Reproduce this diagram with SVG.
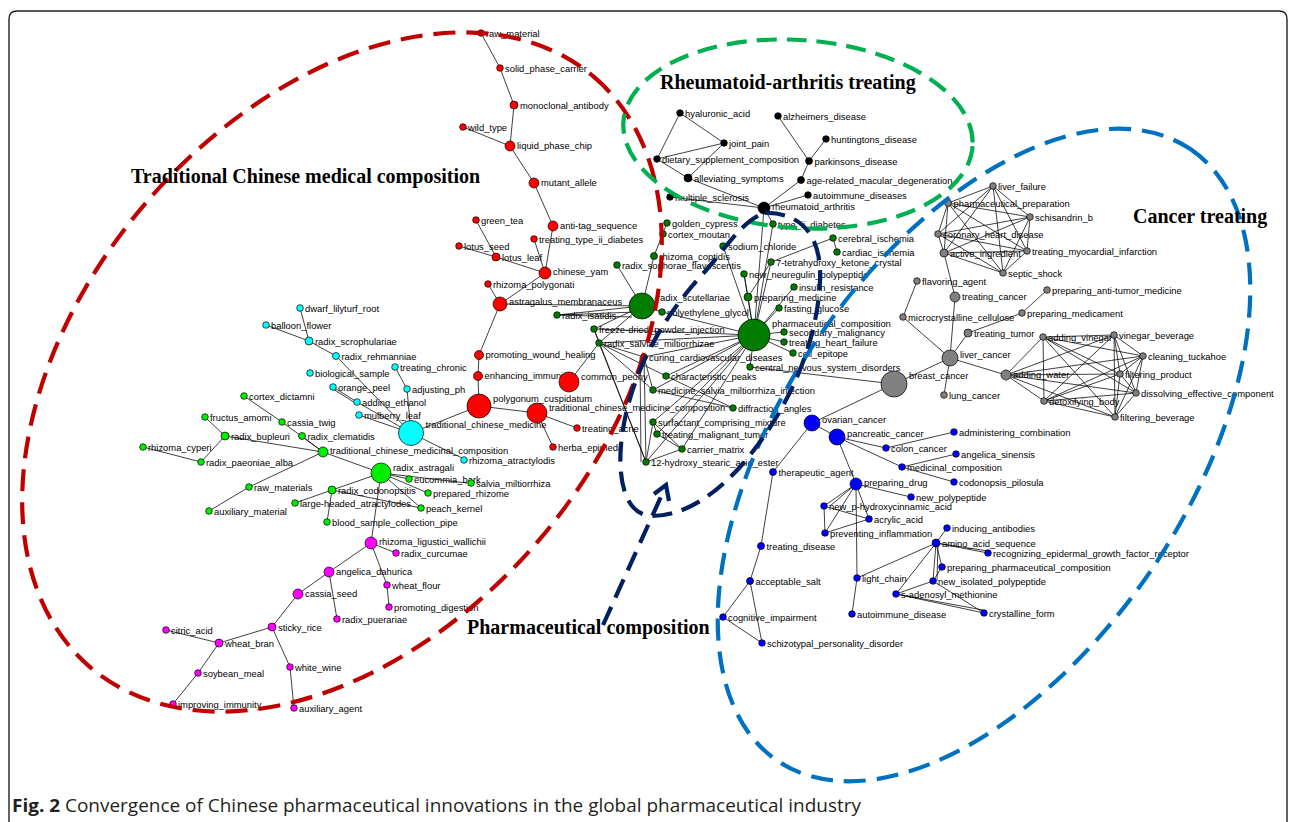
<svg xmlns="http://www.w3.org/2000/svg" width="1295" height="822" viewBox="0 0 1295 822">
<style>
.n circle{stroke:#000;stroke-width:0.7}
.n text{font-family:"Liberation Sans",Arial,sans-serif;font-size:9.4px;fill:#000}
.red circle{fill:#ff0000}.cyan circle{fill:#00ffff}.lime circle{fill:#00ee00}.mag circle{fill:#ff00ff}
.dg circle{fill:#007c00}.blk circle{fill:#000}.gry circle{fill:#808080}.blu circle{fill:#0000ff}
#edges path{fill:none;stroke:#000;stroke-width:0.75}
.zone{fill:none;stroke-width:4.2}
.title{font-family:"Liberation Serif","Times New Roman",serif;font-weight:bold;font-size:20px;fill:#000}
</style>
<rect width="1295" height="822" fill="#fff"/>
<path d="M9 822V19Q9 11 17 11H1279Q1287 11 1287 19V822" fill="none" stroke="#231f20" stroke-width="1.4"/>

<g id="edges">
<path d="M481 33L500 68M500 68L514 105M514 105L510 146M463 127L510 146M510 146L534 183M534 183L553 226M553 226L545 273M534 239L545 273M476 220L496 257M459 246L496 257M496 257L545 273M545 273L500 304M488 284L500 304M500 304L479 355M479 355L478 376M478 376L479 406M479 406L537 413M537 413L577 428M537 413L553 447M479 406L411 433M500 304L642 306M569 382L599 343"/>
<path d="M300 308L309 341M266 325L309 341M309 341L336 356M336 356L411 433M395 367L407 389M407 389L411 433M333 387L357 402M333 389L357 404M357 402L411 433M359 415L411 433M411 433L464 459"/>
<path d="M244 396L282 422M282 422L323 452M205 417L225 436M225 436L201 462M143 447L201 462M225 436L323 452M302 436L323 452M323 452L381 473M323 452L249 487M249 487L209 511M381 473L409 479M381 473L467 483M381 473L428 493M381 473L421 508M381 473L332 490M332 490L295 503M327 522L332 490M332 490L421 508"/>
<path d="M371 543L396 553M371 543L329 572M371 543L387 585M387 585L389 607M329 572L298 594M329 572L337 619M298 594L272 627M272 627L219 643M166 630L219 643M219 643L198 673M198 673L173 704M272 627L290 667M290 667L294 708M371 543L381 473"/>
<path d="M642 306L617 265M642 306L654 256M654 256L667 223M557 315L642 306M557 315L636 312M557 315L632 317M642 306L594 329M642 306L599 343M642 306L662 312M594 329L599 343M594 329L754 335M599 343L754 335M599 343L644 357M599 343L653 390M599 343L646 462M599 343L666 376M594 329L646 462M644 357L646 462M640 357L641 462M644 357L653 390M644 357L754 335M662 312L754 335M666 376L754 335M653 390L754 335M750 367L754 335M653 390L733 408M666 376L733 408M653 422L754 335M657 434L754 335M682 449L754 335M646 462L754 335M653 422L657 434M653 422L682 449M657 434L682 449M646 462L682 449M646 462L653 422M784 332L754 335M784 342L754 335M793 353L754 335M779 308L754 335M748 297L754 335M744 274L754 335M744 274L748 297M723 246L754 335M773 224L754 335M771 262L754 335M764 208L754 335M794 287L754 335M748 297L771 262M833 238L837 252M833 238L771 262M764 208L773 224"/>
<path d="M680 113L724 143M680 113L657 159M657 159L724 143M657 159L688 178M688 178L724 143M688 178L764 208M670 197L764 208M778 116L809 161M826 139L809 161M809 161L801 180M801 180L764 208M808 195L764 208"/>
<path d="M993 186L948 203M993 186L1030 217M993 186L938 234M993 186L944 253M993 186L1027 251M993 186L1003 273M948 203L1030 217M948 203L938 234M948 203L944 253M948 203L1027 251M948 203L1003 273M1030 217L938 234M1030 217L944 253M1030 217L1027 251M1030 217L1003 273M938 234L944 253M938 234L1027 251M938 234L1003 273M944 253L1027 251M944 253L1003 273M1027 251L1003 273"/>
<path d="M944 253L955 297M917 281L903 317M903 317L950 358M955 297L950 358M968 333L1022 313M1022 313L1047 290M968 333L950 358M950 358L894 384M950 358L1006 375M944 395L950 358M894 384L750 367M894 384L812 423"/>
<path d="M1043 337L1114 335M1043 337L1143 356M1043 337L1006 375M1043 337L1120 374M1043 337L1136 393M1043 337L1044 401M1043 337L1115 417M1114 335L1143 356M1114 335L1006 375M1114 335L1120 374M1114 335L1136 393M1114 335L1044 401M1114 335L1115 417M1143 356L1006 375M1143 356L1120 374M1143 356L1136 393M1143 356L1044 401M1143 356L1115 417M1006 375L1120 374M1006 375L1136 393M1006 375L1044 401M1006 375L1115 417M1120 374L1136 393M1120 374L1044 401M1120 374L1115 417M1136 393L1044 401M1136 393L1115 417M1044 401L1115 417"/>
<path d="M812 423L837 437M812 423L773 472M837 437L886 448M837 437L902 467M837 437L856 484M886 448L954 432M902 467L956 454M902 467L954 482M773 472L761 546M761 546L750 581M750 581L723 617M750 581L762 643M723 617L762 643M856 484L911 497M856 484L824 506M856 484L830 506M856 484L825 533M856 484L869 519M856 484L857 578M824 506L825 533M824 506L869 519M825 533L869 519M857 578L852 614M857 578L936 543M936 543L947 528M936 543L988 553M936 543L988 551M936 543L942 567M936 543L933 581M938 543L937 581M936 543L896 594M933 581L984 613M896 594L984 613M896 594L983 610M933 581L896 594M942 567L933 581"/>
</g>

<g id="n-raw_material" class="n red"><circle cx="481" cy="33" r="3.3"/><text x="486" y="36.5">raw_material</text></g>
<g id="n-solid_phase_carrier" class="n red"><circle cx="500" cy="68" r="3.3"/><text x="505" y="71.5">solid_phase_carrier</text></g>
<g id="n-monoclonal_antibody" class="n red"><circle cx="514" cy="105" r="4"/><text x="520" y="108.5">monoclonal_antibody</text></g>
<g id="n-wild_type" class="n red"><circle cx="463" cy="127" r="3.3"/><text x="468" y="130.5">wild_type</text></g>
<g id="n-liquid_phase_chip" class="n red"><circle cx="510" cy="146" r="5"/><text x="517" y="148.5">liquid_phase_chip</text></g>
<g id="n-mutant_allele" class="n red"><circle cx="534" cy="183" r="5"/><text x="541" y="185.5">mutant_allele</text></g>
<g id="n-anti_tag_sequence" class="n red"><circle cx="553" cy="226" r="5"/><text x="560" y="228.5">anti-tag_sequence</text></g>
<g id="n-green_tea" class="n red"><circle cx="476" cy="220" r="3.3"/><text x="481" y="223.5">green_tea</text></g>
<g id="n-treating_type_ii_diabetes" class="n red"><circle cx="534" cy="239" r="3.3"/><text x="539" y="242.5">treating_type_ii_diabetes</text></g>
<g id="n-lotus_seed" class="n red"><circle cx="459" cy="246" r="3.3"/><text x="464" y="249.5">lotus_seed</text></g>
<g id="n-lotus_leaf" class="n red"><circle cx="496" cy="257" r="4"/><text x="502" y="260.5">lotus_leaf</text></g>
<g id="n-chinese_yam" class="n red"><circle cx="545" cy="273" r="6"/><text x="553" y="274.5">chinese_yam</text></g>
<g id="n-rhizoma_polygonati" class="n red"><circle cx="488" cy="284" r="3.3"/><text x="493" y="287.5">rhizoma_polygonati</text></g>
<g id="n-astragalus_membranaceus" class="n red"><circle cx="500" cy="304" r="7"/><text x="509" y="304.5">astragalus_membranaceus</text></g>
<g id="n-promoting_wound_healing" class="n red"><circle cx="479" cy="355" r="4.5"/><text x="485.5" y="358">promoting_wound_healing</text></g>
<g id="n-enhancing_immunity" class="n red"><circle cx="478" cy="376" r="4.5"/><text x="484.5" y="379">enhancing_immunity</text></g>
<g id="n-polygonum_cuspidatum" class="n red"><circle cx="479" cy="406" r="12"/><text x="493" y="401.5">polygonum_cuspidatum</text></g>
<g id="n-traditional_chinese_medicine_composition" class="n red"><circle cx="537" cy="413" r="10"/><text x="549" y="410.5">traditional_chinese_medicine_composition</text></g>
<g id="n-common_peony" class="n red"><circle cx="569" cy="382" r="10"/><text x="581" y="379.5">common_peony</text></g>
<g id="n-treating_acne" class="n red"><circle cx="577" cy="428" r="3.3"/><text x="582" y="431.5">treating_acne</text></g>
<g id="n-herba_epimedii" class="n red"><circle cx="553" cy="447" r="3.3"/><text x="558" y="450.5">herba_epimedii</text></g>

<g id="n-dwarf_lilyturf_root" class="n cyan"><circle cx="300" cy="308" r="3.3"/><text x="305" y="311.5">dwarf_lilyturf_root</text></g>
<g id="n-balloon_flower" class="n cyan"><circle cx="266" cy="325" r="3.3"/><text x="271" y="328.5">balloon_flower</text></g>
<g id="n-radix_scrophulariae" class="n cyan"><circle cx="309" cy="341" r="4"/><text x="315" y="344.5">radix_scrophulariae</text></g>
<g id="n-radix_rehmanniae" class="n cyan"><circle cx="336" cy="356" r="3.5"/><text x="341.5" y="359.5">radix_rehmanniae</text></g>
<g id="n-treating_chronic" class="n cyan"><circle cx="395" cy="367" r="3.3"/><text x="400" y="370.5">treating_chronic</text></g>
<g id="n-biological_sample" class="n cyan"><circle cx="310" cy="373" r="3.3"/><text x="315" y="376.5">biological_sample</text></g>
<g id="n-adjusting_ph" class="n cyan"><circle cx="407" cy="389" r="3.3"/><text x="412" y="392.5">adjusting_ph</text></g>
<g id="n-orange_peel" class="n cyan"><circle cx="333" cy="387" r="3.3"/><text x="338" y="390.5">orange_peel</text></g>
<g id="n-adding_ethanol" class="n cyan"><circle cx="357" cy="402" r="3.3"/><text x="362" y="405.5">adding_ethanol</text></g>
<g id="n-mulberry_leaf" class="n cyan"><circle cx="359" cy="415" r="3.3"/><text x="364" y="418.5">mulberry_leaf</text></g>
<g id="n-traditional_chinese_medicine" class="n cyan"><circle cx="411" cy="433" r="12.5"/><text x="425.5" y="428">traditional_chinese_medicine</text></g>
<g id="n-rhizoma_atractylodis" class="n cyan"><circle cx="464" cy="460" r="3.3"/><text x="469" y="464">rhizoma_atractylodis</text></g>

<g id="n-cortex_dictamni" class="n lime"><circle cx="244" cy="396" r="3.3"/><text x="249" y="399.5">cortex_dictamni</text></g>
<g id="n-fructus_amomi" class="n lime"><circle cx="205" cy="417" r="3.3"/><text x="210" y="420.5">fructus_amomi</text></g>
<g id="n-cassia_twig" class="n lime"><circle cx="282" cy="422" r="3.3"/><text x="287" y="425.5">cassia_twig</text></g>
<g id="n-radix_bupleuri" class="n lime"><circle cx="225" cy="436" r="4"/><text x="231" y="439.5">radix_bupleuri</text></g>
<g id="n-radix_clematidis" class="n lime"><circle cx="302" cy="436" r="3.5"/><text x="307.5" y="439.5">radix_clematidis</text></g>
<g id="n-rhizoma_cyperi" class="n lime"><circle cx="143" cy="447" r="3.3"/><text x="148" y="450.5">rhizoma_cyperi</text></g>
<g id="n-traditional_chinese_medicinal_composition" class="n lime"><circle cx="323" cy="452" r="5"/><text x="330" y="453.5">traditional_chinese_medicinal_composition</text></g>
<g id="n-radix_paeoniae_alba" class="n lime"><circle cx="201" cy="462" r="3.3"/><text x="206" y="465.5">radix_paeoniae_alba</text></g>
<g id="n-radix_astragali" class="n lime"><circle cx="381" cy="473" r="10"/><text x="393" y="470.5">radix_astragali</text></g>
<g id="n-eucommia_bark" class="n lime"><circle cx="409" cy="479" r="3.3"/><text x="414" y="482.5">eucommia_bark</text></g>
<g id="n-salvia_miltiorrhiza" class="n lime"><circle cx="471" cy="483" r="3.3"/><text x="476" y="486.5">salvia_miltiorrhiza</text></g>
<g id="n-raw_materials" class="n lime"><circle cx="249" cy="487" r="3.3"/><text x="254" y="490.5">raw_materials</text></g>
<g id="n-radix_codonopsitis" class="n lime"><circle cx="332" cy="490" r="4"/><text x="338" y="493.5">radix_codonopsitis</text></g>
<g id="n-prepared_rhizome" class="n lime"><circle cx="428" cy="493" r="3.3"/><text x="433" y="496.5">prepared_rhizome</text></g>
<g id="n-large_headed_atractylodes" class="n lime"><circle cx="295" cy="503" r="3.3"/><text x="300" y="506.5">large-headed_atractylodes</text></g>
<g id="n-peach_kernel" class="n lime"><circle cx="421" cy="508" r="3.3"/><text x="426" y="511.5">peach_kernel</text></g>
<g id="n-auxiliary_material" class="n lime"><circle cx="209" cy="511" r="3.3"/><text x="214" y="514.5">auxiliary_material</text></g>
<g id="n-blood_sample_collection_pipe" class="n lime"><circle cx="327" cy="522" r="3.3"/><text x="332" y="525.5">blood_sample_collection_pipe</text></g>

<g id="n-rhizoma_ligustici_wallichii" class="n mag"><circle cx="371" cy="543" r="6"/><text x="379" y="544.5">rhizoma_ligustici_wallichii</text></g>
<g id="n-radix_curcumae" class="n mag"><circle cx="396" cy="553" r="3.3"/><text x="401" y="556.5">radix_curcumae</text></g>
<g id="n-angelica_dahurica" class="n mag"><circle cx="329" cy="572" r="5"/><text x="336" y="574.5">angelica_dahurica</text></g>
<g id="n-wheat_flour" class="n mag"><circle cx="387" cy="585" r="3.3"/><text x="392" y="588.5">wheat_flour</text></g>
<g id="n-cassia_seed" class="n mag"><circle cx="298" cy="594" r="5"/><text x="305" y="596.5">cassia_seed</text></g>
<g id="n-promoting_digestion" class="n mag"><circle cx="389" cy="607" r="3.3"/><text x="394" y="610.5">promoting_digestion</text></g>
<g id="n-radix_puerariae" class="n mag"><circle cx="337" cy="619" r="3.3"/><text x="342" y="622.5">radix_puerariae</text></g>
<g id="n-sticky_rice" class="n mag"><circle cx="272" cy="627" r="4"/><text x="278" y="630.5">sticky_rice</text></g>
<g id="n-citric_acid" class="n mag"><circle cx="166" cy="630" r="3.3"/><text x="171" y="633.5">citric_acid</text></g>
<g id="n-wheat_bran" class="n mag"><circle cx="219" cy="643" r="4"/><text x="225" y="646.5">wheat_bran</text></g>
<g id="n-white_wine" class="n mag"><circle cx="290" cy="667" r="3.3"/><text x="295" y="670.5">white_wine</text></g>
<g id="n-soybean_meal" class="n mag"><circle cx="198" cy="673" r="3.3"/><text x="203" y="676.5">soybean_meal</text></g>
<g id="n-improving_immunity" class="n mag"><circle cx="173" cy="704" r="3.3"/><text x="178" y="707.5">improving_immunity</text></g>
<g id="n-auxiliary_agent" class="n mag"><circle cx="294" cy="708" r="3.3"/><text x="299" y="711.5">auxiliary_agent</text></g>

<g id="n-golden_cypress" class="n dg"><circle cx="667" cy="223" r="3.3"/><text x="672" y="226.5">golden_cypress</text></g>
<g id="n-cortex_moutan" class="n dg"><circle cx="663" cy="234" r="3.3"/><text x="668" y="237.5">cortex_moutan</text></g>
<g id="n-rhizoma_coptidis" class="n dg"><circle cx="654" cy="256" r="3.5"/><text x="659.5" y="259.5">rhizoma_coptidis</text></g>
<g id="n-radix_sophorae_flavescentis" class="n dg"><circle cx="617" cy="265" r="3.3"/><text x="622" y="268.5">radix_sophorae_flavescentis</text></g>
<g id="n-radix_scutellariae" class="n dg"><circle cx="642" cy="306" r="13"/><text x="657" y="300.5">radix_scutellariae</text></g>
<g id="n-polyethylene_glycol" class="n dg"><circle cx="662" cy="312" r="3.3"/><text x="667" y="315.5">polyethylene_glycol</text></g>
<g id="n-radix_isatidis" class="n dg"><circle cx="557" cy="315" r="3.3"/><text x="562" y="318.5">radix_isatidis</text></g>
<g id="n-freeze_dried_powder_injection" class="n dg"><circle cx="594" cy="329" r="3.3"/><text x="599" y="332.5">freeze-dried_powder_injection</text></g>
<g id="n-radix_salviae_miltiorrhizae" class="n dg"><circle cx="599" cy="343" r="3.3"/><text x="604" y="346.5">radix_salviae_miltiorrhizae</text></g>
<g id="n-curing_cardiovascular_diseases" class="n dg"><circle cx="644" cy="357" r="3.3"/><text x="649" y="360.5">curing_cardiovascular_diseases</text></g>
<g id="n-characteristic_peaks" class="n dg"><circle cx="666" cy="376" r="3.3"/><text x="671" y="379.5">characteristic_peaks</text></g>
<g id="n-medicine_salvia_miltiorrhiza_injection" class="n dg"><circle cx="653" cy="390" r="3.3"/><text x="658" y="393.5">medicine_salvia_miltiorrhiza_injection</text></g>
<g id="n-diffraction_angles" class="n dg"><circle cx="733" cy="408" r="3.3"/><text x="738" y="411.5">diffraction_angles</text></g>
<g id="n-surfactant_comprising_mixture" class="n dg"><circle cx="653" cy="422" r="3.3"/><text x="658" y="425.5">surfactant_comprising_mixture</text></g>
<g id="n-treating_malignant_tumor" class="n dg"><circle cx="657" cy="434" r="3.3"/><text x="662" y="437.5">treating_malignant_tumor</text></g>
<g id="n-carrier_matrix" class="n dg"><circle cx="682" cy="449" r="3.3"/><text x="687" y="452.5">carrier_matrix</text></g>
<g id="n-hydroxy_stearic_acid_ester" class="n dg"><circle cx="646" cy="462" r="3.3"/><text x="651" y="465.5">12-hydroxy_stearic_acid_ester</text></g>
<g id="n-sodium_chloride" class="n dg"><circle cx="723" cy="246" r="3.3"/><text x="728" y="249.5">sodium_chloride</text></g>
<g id="n-type_ii_diabetes" class="n dg"><circle cx="773" cy="224" r="3.3"/><text x="778" y="227.5">type_ii_diabetes</text></g>
<g id="n-tetrahydroxy_ketone_crystal" class="n dg"><circle cx="771" cy="262" r="3.3"/><text x="776" y="265.5">7-tetrahydroxy_ketone_crystal</text></g>
<g id="n-new_neuregulin_polypeptide" class="n dg"><circle cx="744" cy="274" r="3.3"/><text x="749" y="277.5">new_neuregulin_polypeptide</text></g>
<g id="n-cerebral_ischemia" class="n dg"><circle cx="833" cy="238" r="3.3"/><text x="838" y="241.5">cerebral_ischemia</text></g>
<g id="n-cardiac_ischemia" class="n dg"><circle cx="837" cy="252" r="3.3"/><text x="842" y="255.5">cardiac_ischemia</text></g>
<g id="n-insulin_resistance" class="n dg"><circle cx="794" cy="287" r="3.3"/><text x="799" y="290.5">insulin_resistance</text></g>
<g id="n-preparing_medicine" class="n dg"><circle cx="748" cy="297" r="4"/><text x="754" y="300.5">preparing_medicine</text></g>
<g id="n-fasting_glucose" class="n dg"><circle cx="779" cy="308" r="3.3"/><text x="784" y="311.5">fasting_glucose</text></g>
<g id="n-pharmaceutical_composition" class="n dg"><circle cx="754" cy="335" r="16"/><text x="772" y="326.5">pharmaceutical_composition</text></g>
<g id="n-secondary_malignancy" class="n dg"><circle cx="784" cy="332" r="3.3"/><text x="789" y="335.5">secondary_malignancy</text></g>
<g id="n-treating_heart_failure" class="n dg"><circle cx="784" cy="342" r="3.3"/><text x="789" y="345.5">treating_heart_failure</text></g>
<g id="n-cell_epitope" class="n dg"><circle cx="793" cy="353" r="3.3"/><text x="798" y="356.5">cell_epitope</text></g>
<g id="n-central_nervous_system_disorders" class="n dg"><circle cx="750" cy="367" r="3.3"/><text x="755" y="370.5">central_nervous_system_disorders</text></g>

<g id="n-hyaluronic_acid" class="n blk"><circle cx="680" cy="113" r="3.3"/><text x="685" y="116.5">hyaluronic_acid</text></g>
<g id="n-alzheimers_disease" class="n blk"><circle cx="778" cy="116" r="3.3"/><text x="783" y="119.5">alzheimers_disease</text></g>
<g id="n-huntingtons_disease" class="n blk"><circle cx="826" cy="139" r="3.3"/><text x="831" y="142.5">huntingtons_disease</text></g>
<g id="n-joint_pain" class="n blk"><circle cx="724" cy="143" r="3.3"/><text x="729" y="146.5">joint_pain</text></g>
<g id="n-dietary_supplement_composition" class="n blk"><circle cx="657" cy="159" r="3.3"/><text x="662" y="162.5">dietary_supplement_composition</text></g>
<g id="n-parkinsons_disease" class="n blk"><circle cx="809" cy="161" r="3.5"/><text x="814.5" y="164.5">parkinsons_disease</text></g>
<g id="n-alleviating_symptoms" class="n blk"><circle cx="688" cy="178" r="4"/><text x="694" y="181.5">alleviating_symptoms</text></g>
<g id="n-age_related_macular_degeneration" class="n blk"><circle cx="801" cy="180" r="3.5"/><text x="806.5" y="183.5">age-related_macular_degeneration</text></g>
<g id="n-autoimmune_diseases" class="n blk"><circle cx="808" cy="195" r="3.3"/><text x="813" y="198.5">autoimmune_diseases</text></g>
<g id="n-multiple_sclerosis" class="n blk"><circle cx="670" cy="197" r="3.3"/><text x="675" y="200.5">multiple_sclerosis</text></g>
<g id="n-rheumatoid_arthritis" class="n blk"><circle cx="764" cy="208" r="6"/><text x="772" y="209.5">rheumatoid_arthritis</text></g>

<g id="n-liver_failure" class="n gry"><circle cx="993" cy="186" r="3.3"/><text x="998" y="189.5">liver_failure</text></g>
<g id="n-pharmaceutical_preparation" class="n gry"><circle cx="948" cy="203" r="3.5"/><text x="953.5" y="206.5">pharmaceutical_preparation</text></g>
<g id="n-schisandrin_b" class="n gry"><circle cx="1030" cy="217" r="3.3"/><text x="1035" y="220.5">schisandrin_b</text></g>
<g id="n-coronary_heart_disease" class="n gry"><circle cx="938" cy="234" r="3.3"/><text x="943" y="237.5">coronary_heart_disease</text></g>
<g id="n-active_ingredient" class="n gry"><circle cx="944" cy="253" r="4"/><text x="950" y="256.5">active_ingredient</text></g>
<g id="n-treating_myocardial_infarction" class="n gry"><circle cx="1027" cy="251" r="3.3"/><text x="1032" y="254.5">treating_myocardial_infarction</text></g>
<g id="n-septic_shock" class="n gry"><circle cx="1003" cy="273" r="3.3"/><text x="1008" y="276.5">septic_shock</text></g>
<g id="n-flavoring_agent" class="n gry"><circle cx="917" cy="281" r="3.3"/><text x="922" y="284.5">flavoring_agent</text></g>
<g id="n-treating_cancer" class="n gry"><circle cx="955" cy="297" r="5"/><text x="962" y="299.5">treating_cancer</text></g>
<g id="n-preparing_anti_tumor_medicine" class="n gry"><circle cx="1047" cy="290" r="3.3"/><text x="1052" y="293.5">preparing_anti-tumor_medicine</text></g>
<g id="n-microcrystalline_cellulose" class="n gry"><circle cx="903" cy="317" r="3.3"/><text x="908" y="320.5">microcrystalline_cellulose</text></g>
<g id="n-preparing_medicament" class="n gry"><circle cx="1022" cy="313" r="3.3"/><text x="1027" y="316.5">preparing_medicament</text></g>
<g id="n-treating_tumor" class="n gry"><circle cx="968" cy="333" r="4"/><text x="974" y="336.5">treating_tumor</text></g>
<g id="n-liver_cancer" class="n gry"><circle cx="950" cy="358" r="8"/><text x="960" y="357.5">liver_cancer</text></g>
<g id="n-breast_cancer" class="n gry"><circle cx="894" cy="384" r="13"/><text x="909" y="378.5">breast_cancer</text></g>
<g id="n-lung_cancer" class="n gry"><circle cx="944" cy="395" r="3.3"/><text x="949" y="398.5">lung_cancer</text></g>
<g id="n-adding_vinegar" class="n gry"><circle cx="1043" cy="337" r="3.3"/><text x="1048" y="340.5">adding_vinegar</text></g>
<g id="n-vinegar_beverage" class="n gry"><circle cx="1114" cy="335" r="3.3"/><text x="1119" y="338.5">vinegar_beverage</text></g>
<g id="n-cleaning_tuckahoe" class="n gry"><circle cx="1143" cy="356" r="3.3"/><text x="1148" y="359.5">cleaning_tuckahoe</text></g>
<g id="n-adding_water" class="n gry"><circle cx="1006" cy="375" r="5"/><text x="1013" y="377.5">adding_water</text></g>
<g id="n-filtering_product" class="n gry"><circle cx="1120" cy="374" r="3.3"/><text x="1125" y="377.5">filtering_product</text></g>
<g id="n-dissolving_effective_component" class="n gry"><circle cx="1136" cy="393" r="3.3"/><text x="1141" y="396.5">dissolving_effective_component</text></g>
<g id="n-detoxifying_body" class="n gry"><circle cx="1044" cy="401" r="3.3"/><text x="1049" y="404.5">detoxifying_body</text></g>
<g id="n-filtering_beverage" class="n gry"><circle cx="1115" cy="417" r="3.3"/><text x="1120" y="420.5">filtering_beverage</text></g>

<g id="n-ovarian_cancer" class="n blu"><circle cx="812" cy="423" r="8"/><text x="822" y="422.5">ovarian_cancer</text></g>
<g id="n-pancreatic_cancer" class="n blu"><circle cx="837" cy="437" r="8"/><text x="847" y="436.5">pancreatic_cancer</text></g>
<g id="n-administering_combination" class="n blu"><circle cx="954" cy="432" r="3.3"/><text x="959" y="435.5">administering_combination</text></g>
<g id="n-colon_cancer" class="n blu"><circle cx="886" cy="448" r="3.3"/><text x="891" y="451.5">colon_cancer</text></g>
<g id="n-angelica_sinensis" class="n blu"><circle cx="956" cy="454" r="3.3"/><text x="961" y="457.5">angelica_sinensis</text></g>
<g id="n-medicinal_composition" class="n blu"><circle cx="902" cy="467" r="3.3"/><text x="907" y="470.5">medicinal_composition</text></g>
<g id="n-therapeutic_agent" class="n blu"><circle cx="773" cy="472" r="3.5"/><text x="778.5" y="475.5">therapeutic_agent</text></g>
<g id="n-codonopsis_pilosula" class="n blu"><circle cx="954" cy="482" r="3.3"/><text x="959" y="485.5">codonopsis_pilosula</text></g>
<g id="n-preparing_drug" class="n blu"><circle cx="856" cy="484" r="6"/><text x="864" y="485.5">preparing_drug</text></g>
<g id="n-new_polypeptide" class="n blu"><circle cx="911" cy="497" r="3.3"/><text x="916" y="500.5">new_polypeptide</text></g>
<g id="n-new_p_hydroxycinnamic_acid" class="n blu"><circle cx="824" cy="506" r="3.3"/><text x="829" y="509.5">new_p-hydroxycinnamic_acid</text></g>
<g id="n-acrylic_acid" class="n blu"><circle cx="869" cy="519" r="3.3"/><text x="874" y="522.5">acrylic_acid</text></g>
<g id="n-inducing_antibodies" class="n blu"><circle cx="947" cy="528" r="3.3"/><text x="952" y="531.5">inducing_antibodies</text></g>
<g id="n-preventing_inflammation" class="n blu"><circle cx="825" cy="533" r="3.3"/><text x="830" y="536.5">preventing_inflammation</text></g>
<g id="n-amino_acid_sequence" class="n blu"><circle cx="936" cy="543" r="4"/><text x="942" y="546.5">amino_acid_sequence</text></g>
<g id="n-recognizing_epidermal_growth_factor_receptor" class="n blu"><circle cx="988" cy="553" r="3.3"/><text x="993" y="556.5">recognizing_epidermal_growth_factor_receptor</text></g>
<g id="n-preparing_pharmaceutical_composition" class="n blu"><circle cx="942" cy="567" r="3.3"/><text x="947" y="570.5">preparing_pharmaceutical_composition</text></g>
<g id="n-treating_disease" class="n blu"><circle cx="761" cy="546" r="3.5"/><text x="766.5" y="549.5">treating_disease</text></g>
<g id="n-light_chain" class="n blu"><circle cx="857" cy="578" r="3.3"/><text x="862" y="581.5">light_chain</text></g>
<g id="n-new_isolated_polypeptide" class="n blu"><circle cx="933" cy="581" r="3.3"/><text x="938" y="584.5">new_isolated_polypeptide</text></g>
<g id="n-acceptable_salt" class="n blu"><circle cx="750" cy="581" r="3.5"/><text x="755.5" y="584.5">acceptable_salt</text></g>
<g id="n-s_adenosyl_methionine" class="n blu"><circle cx="896" cy="594" r="3.3"/><text x="901" y="597.5">s-adenosyl_methionine</text></g>
<g id="n-autoimmune_disease" class="n blu"><circle cx="852" cy="614" r="3.3"/><text x="857" y="617.5">autoimmune_disease</text></g>
<g id="n-crystalline_form" class="n blu"><circle cx="984" cy="613" r="3.3"/><text x="989" y="616.5">crystalline_form</text></g>
<g id="n-cognitive_impairment" class="n blu"><circle cx="723" cy="617" r="3.3"/><text x="728" y="620.5">cognitive_impairment</text></g>
<g id="n-schizotypal_personality_disorder" class="n blu"><circle cx="762" cy="643" r="3.3"/><text x="767" y="646.5">schizotypal_personality_disorder</text></g>

<g id="zones">
<ellipse class="zone" cx="342" cy="372" rx="388" ry="259" transform="rotate(-49.5 342 372)" stroke="#c00000" stroke-dasharray="22 11"/>
<ellipse class="zone" cx="798" cy="134" rx="175" ry="94" transform="rotate(4 798 134)" stroke="#00b050" stroke-dasharray="20 10"/>
<ellipse class="zone" cx="984" cy="455" rx="369" ry="203" transform="rotate(-56 984 455)" stroke="#0070c0" stroke-dasharray="22 11"/>
<path class="zone" d="M765 213C800 212 822 235 820 280C818 340 790 410 740 467C710 500 680 516 652 516C625 515 618 480 621 445C626 390 652 330 700 277C725 250 742 220 765 213Z" stroke="#002060" stroke-dasharray="20 10"/>
<path class="zone" d="M603 625L664 490" stroke="#002060" stroke-dasharray="20 10"/>
<path d="M654 494L666 485L669 501" fill="none" stroke="#002060" stroke-width="4.2"/>
</g>

<text class="title" x="131" y="183">Traditional Chinese medical composition</text>
<text class="title" x="660" y="89">Rheumatoid-arthritis treating</text>
<text class="title" x="1133" y="223">Cancer treating</text>
<text class="title" x="467" y="634">Pharmaceutical composition</text>

<text x="12" y="812" font-family="'Open Sans','Noto Sans',sans-serif" font-size="18.5" fill="#231f20" textLength="849" lengthAdjust="spacingAndGlyphs"><tspan font-weight="bold">Fig. 2</tspan> Convergence of Chinese pharmaceutical innovations in the global pharmaceutical industry</text>
</svg>
